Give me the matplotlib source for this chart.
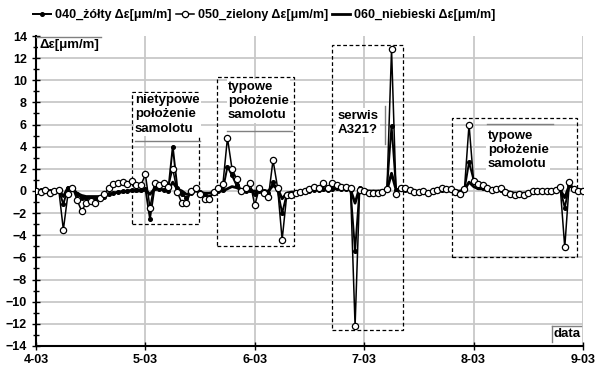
import numpy as np
import matplotlib.pyplot as plt
from matplotlib.patches import Rectangle

plt.rcParams['font.family'] = ['Liberation Sans', 'DejaVu Sans']
plt.rcParams['font.weight'] = 'bold'

# pomiary co godzine, od 4-03 00:00 do 9-03 00:00
dni = ['4-03', '5-03', '6-03', '7-03', '8-03', '9-03']
godziny = np.arange(121) / 24.0

zolty_040 = [
    0.1, 0.1, 0.0, 0.0, 0.0, 0.1, -1.2, 0.3, 0.2, -0.3, -0.6, -0.6,
    -0.6, -0.7, -0.7, -0.5, -0.3, -0.2, -0.1, 0.0, 0.0, 0.1, 0.1, 0.1,
    0.2, -2.5, 0.3, 0.2, 0.1, 0.0, 4.0, 0.3, -0.3, -0.6, -0.2, 0.2,
    -0.1, -0.4, -0.5, -0.2, 0.0, 0.1, 2.2, 1.4, 0.5, 0.1, 0.0, 0.1,
    -0.3, 0.0, 0.0, -0.2, 0.8, 0.1, -2.0, -0.3, -0.2, -0.1, -0.2, -0.1,
    0.0, 0.1, 0.1, 0.2, 0.1, 0.2, 0.3, 0.2, 0.2, 0.1, -5.4, 0.3,
    0.0, -0.1, -0.1, -0.1, 0.0, 0.2, 5.9, 0.1, 0.2, 0.1, 0.0, -0.1,
    -0.2, -0.1, -0.3, -0.1, 0.0, 0.1, 0.1, 0.1, 0.0, -0.1, 0.1, 2.6,
    1.0, 0.4, 0.3, 0.2, 0.1, 0.1, 0.1, -0.1, -0.2, -0.3, -0.2, -0.3,
    -0.2, -0.1, 0.0, 0.0, 0.0, 0.1, 0.1, 0.2, -1.5, 0.5, 0.3, 0.1, 0.1,
]

zielony_050 = [
    0.0, -0.1, 0.1, -0.2, 0.0, 0.1, -3.5, -0.3, 0.3, -0.8, -1.8, -1.1,
    -0.9, -1.1, -0.6, -0.3, 0.3, 0.6, 0.7, 0.8, 0.6, 0.9, 0.5, 0.5,
    1.5, -1.5, 0.7, 0.5, 0.7, 0.4, 2.0, -0.1, -1.1, -1.1, 0.0, 0.3,
    -0.3, -0.7, -0.7, -0.1, 0.3, 0.6, 4.8, 2.0, 1.1, 0.0, 0.3, 0.7,
    -1.3, 0.3, -0.2, -0.5, 2.8, 0.3, -4.4, -0.4, -0.4, -0.2, -0.1, 0.0,
    0.2, 0.4, 0.3, 0.7, 0.3, 0.7, 0.5, 0.4, 0.4, 0.3, -12.2, 0.1,
    0.0, -0.2, -0.2, -0.2, -0.1, 0.2, 12.8, -0.3, 0.3, 0.3, 0.1, -0.1,
    -0.1, 0.0, -0.2, 0.0, 0.1, 0.3, 0.2, 0.2, -0.1, -0.3, 0.2, 6.0,
    0.9, 0.6, 0.5, 0.3, 0.1, 0.2, 0.3, -0.1, -0.3, -0.4, -0.3, -0.4,
    -0.2, 0.0, 0.0, 0.0, 0.0, 0.0, 0.1, 0.4, -5.1, 0.8, 0.2, 0.0, 0.0,
]

niebieski_060 = [
    0.0, 0.0, 0.0, 0.0, 0.0, 0.1, -0.5, 0.3, 0.2, -0.2, -0.4, -0.5,
    -0.5, -0.5, -0.5, -0.4, -0.3, -0.2, -0.1, -0.1, 0.0, 0.0, 0.0, 0.0,
    0.1, -0.3, 0.2, 0.2, 0.1, 0.1, 0.8, 0.2, 0.0, -0.3, -0.2, 0.0,
    -0.1, -0.2, -0.2, -0.1, 0.0, 0.0, 0.2, 0.4, 0.3, 0.1, 0.0, 0.0,
    0.0, 0.0, 0.0, 0.0, 0.5, 0.2, -0.7, -0.2, -0.1, -0.1, -0.1, 0.0,
    0.0, 0.1, 0.1, 0.1, 0.1, 0.2, 0.2, 0.2, 0.2, 0.1, -1.1, 0.3,
    0.1, 0.0, 0.0, 0.0, 0.0, 0.1, 1.6, 0.1, 0.1, 0.1, 0.0, 0.0,
    -0.1, -0.1, -0.2, -0.1, 0.0, 0.0, 0.1, 0.1, 0.0, 0.0, 0.1, 0.8,
    0.4, 0.2, 0.2, 0.1, 0.1, 0.1, 0.0, 0.0, -0.1, -0.2, -0.2, -0.2,
    -0.2, -0.1, 0.0, 0.0, 0.0, 0.0, 0.1, 0.1, -0.6, 0.5, 0.2, 0.1, 0.1,
]

# ramki (x0, x1, y0, y1) i opisy
ramki = [(0.88, 1.49, -3.0, 8.9), (1.655, 2.36, -5.0, 10.3),
         (2.705, 3.355, -12.6, 13.2), (3.80, 4.945, -6.0, 6.6)]
opisy = ['nietypowe\npołożenie\nsamolotu', 'typowe\npołożenie\nsamolotu',
         'serwis\nA321?', 'typowe\npołożenie\nsamolotu']
opisy_xy = [(0.905, 8.75), (1.755, 9.95), (2.76, 7.35), (4.13, 5.55)]

fig = plt.figure(figsize=(5.98, 3.7), dpi=100)
ax = fig.add_axes([0.0602, 0.0649, 0.9147, 0.8378])

ax.plot(godziny, niebieski_060, color='black', lw=2.0, zorder=3,
        label='060_niebieski Δε[μm/m]')
ax.plot(godziny, zolty_040, color='black', lw=1.4, marker='o', ms=2.6,
        zorder=4, label='040_żółty Δε[μm/m]')
ax.plot(godziny, zielony_050, color='black', lw=1.1, marker='o', ms=4.5,
        mfc='white', mec='black', mew=0.9, zorder=5,
        label='050_zielony Δε[μm/m]')

ax.set_xlim(0, 5)
ax.set_ylim(-14, 14)
ax.set_xticks(range(6))
ax.set_xticklabels(dni, fontsize=9, fontweight='bold')
ax.set_yticks(range(-14, 15, 2))
ax.set_yticks(range(-13, 14, 2), minor=True)
ax.tick_params(axis='y', which='major', direction='inout', length=6, width=1, labelsize=9)
ax.tick_params(axis='y', which='minor', direction='inout', length=4, width=1)
ax.tick_params(axis='x', direction='inout', length=6, width=1, labelsize=9, pad=3)
for lab in ax.get_yticklabels():
    lab.set_fontweight('bold')

ax.grid(True, which='major', color='#c8c8c8', lw=1.3, zorder=0)
ax.get_ygridlines()[-1].set_visible(False)
ax.get_ygridlines()[0].set_visible(False)
ax.get_xgridlines()[0].set_visible(False)
ax.set_axisbelow(True)

for s in ['top', 'right']:
    ax.spines[s].set_visible(False)
ax.spines['left'].set_linewidth(1.5)
ax.spines['bottom'].set_linewidth(1.5)

for (x0, x1, y0, y1) in ramki:
    ax.add_patch(Rectangle((x0, y0), x1 - x0, y1 - y0, fill=False,
                           ls=(0, (3, 2)), lw=0.9, ec='black', zorder=2))

for tekst, (tx, ty) in zip(opisy, opisy_xy):
    ax.text(tx, ty, tekst, fontsize=9.5, fontweight='bold', va='top',
            ha='left', linespacing=1.25, zorder=6,
            bbox=dict(facecolor='white', edgecolor='none', pad=1))

# szare kreski przy opisach
szary = '#808080'
ax.plot([0.905, 1.5], [4.55, 4.55], color=szary, lw=1, zorder=6)
ax.plot([1.746, 2.34], [5.45, 5.45], color=szary, lw=1, zorder=6)
ax.plot([3.19, 3.19], [4.2, 7.7], color=szary, lw=1, zorder=6)
ax.plot([4.12, 4.73], [6.07, 6.07], color=szary, lw=1, zorder=6)

ax.text(0.006, 0.99, 'Δε[μm/m]', transform=ax.transAxes, fontsize=9.5,
        fontweight='bold', va='top', ha='left', zorder=6,
        bbox=dict(facecolor='white', edgecolor='none', pad=1))
ax.plot([0, 0.119], [0.998, 0.998], transform=ax.transAxes, color=szary, lw=1, zorder=6)

ax.text(0.947, 0.018, 'data', transform=ax.transAxes, fontsize=9.5,
        fontweight='bold', va='bottom', ha='left', zorder=6)
ax.plot([0.943, 0.943], [0.013, 0.065], transform=ax.transAxes, color=szary, lw=1, zorder=6)
ax.plot([0.943, 0.997], [0.065, 0.065], transform=ax.transAxes, color=szary, lw=1, zorder=6)

uchwyty, etykiety = ax.get_legend_handles_labels()
kolejnosc = [1, 2, 0]
fig.legend([uchwyty[i] for i in kolejnosc], [etykiety[i] for i in kolejnosc],
           loc='center left', bbox_to_anchor=(0.055, 0.959), ncol=3,
           frameon=False, handlelength=1.45, handletextpad=0.3,
           columnspacing=0.35, prop={'size': 9, 'weight': 'bold'},
           borderaxespad=0, borderpad=0)

fig.savefig('out.png', dpi=100)
